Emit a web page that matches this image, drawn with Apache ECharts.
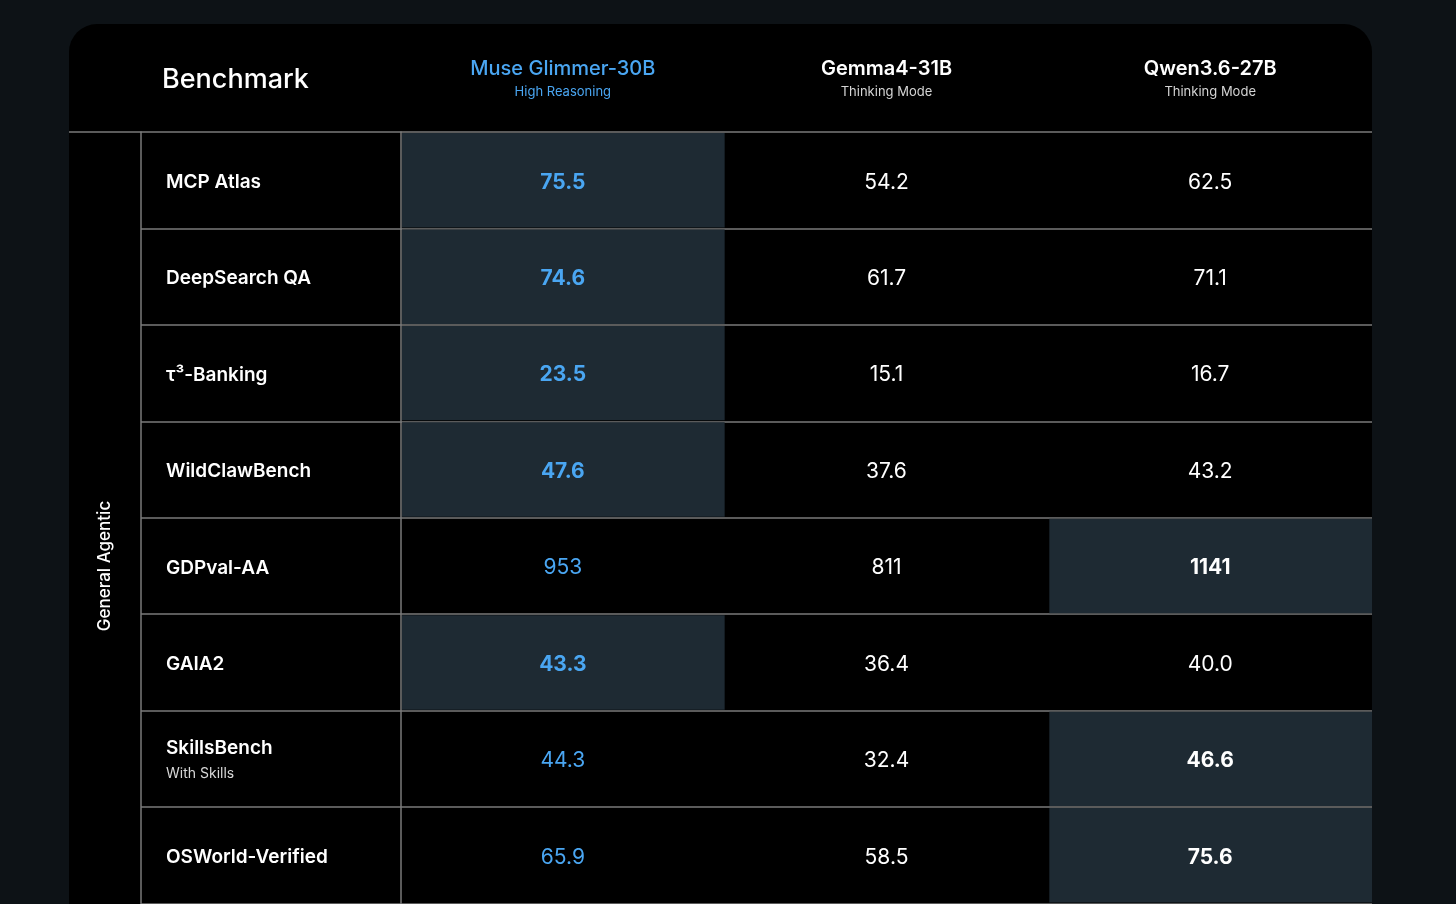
<!DOCTYPE html>
<html>
<head>
<meta charset="utf-8">
<title>Benchmark table</title>
<script src="https://cdn.jsdelivr.net/npm/echarts@6.0.0/dist/echarts.min.js"></script>
<style>
  html, body { margin: 0; padding: 0; background: #0d1216; }
  #chart { width: 1456px; height: 904px; }
</style>
</head>
<body>
<div id="chart"></div>
<script>
const FONT = 'Inter, "Noto Sans", sans-serif';
const LINE = '#7a7a7a';
const BLUE = '#4aa6f2';
const HILITE = '#1e2a33';

const groupName = ['General Agentic'];
const models = ['Muse Glimmer-30B', 'Gemma4-31B', 'Qwen3.6-27B'];
const modelNotes = ['High Reasoning', 'Thinking Mode', 'Thinking Mode'];
const benchmarks = ['MCP Atlas', 'DeepSearch QA', 'τ³-Banking', 'WildClawBench',
  'GDPval-AA', 'GAIA2', 'SkillsBench', 'OSWorld-Verified'];
const benchmarkNotes = ['', '', '', '', '', '', 'With Skills', ''];

const museScores = [75.5, 74.6, 23.5, 47.6, 953, 43.3, 44.3, 65.9];
const gemmaScores = [54.2, 61.7, 15.1, 37.6, 811, 36.4, 32.4, 58.5];
const qwenScores = [62.5, 71.1, 16.7, 43.2, 1141, 40.0, 46.6, 75.6];

const scoreCols = [museScores, gemmaScores, qwenScores];

// one item per cell: [column, row, score, isBestInRow]
const cells = [];
benchmarks.forEach(function (name, row) {
  const rowVals = scoreCols.map(function (col) { return col[row]; });
  const best = Math.max.apply(null, rowVals);
  rowVals.forEach(function (v, col) {
    cells.push([col, row, v, v === best ? 1 : 0]);
  });
});

function fmt(v) {
  return v >= 100 ? v.toFixed(0) : v.toFixed(1);
}

const chart = echarts.init(document.getElementById('chart'));

const option = {
  backgroundColor: '#0d1216',
  animation: false,
  graphic: [{
    type: 'rect',
    z: -10,
    shape: { x: 69, y: 24, width: 1303, height: 900, r: [28, 28, 0, 0] },
    style: { fill: '#000000' }
  }],
  title: {
    text: 'Benchmark',
    left: 162,
    top: 66,
    padding: 0,
    textStyle: { color: '#ffffff', fontFamily: FONT, fontSize: 27, fontWeight: 500 }
  },
  grid: [
    // group band (runs past the bottom edge, the table continues)
    { left: 69, width: 72, top: 132, height: 868, outerBoundsMode: 'none' },
    // benchmark names
    { left: 141, width: 260, top: 132, height: 771.5, outerBoundsMode: 'none' },
    // scores
    { left: 401, width: 971, top: 132, height: 771.5, outerBoundsMode: 'none' }
  ],
  xAxis: [
    { gridIndex: 0, type: 'category', data: [''], show: false },
    { gridIndex: 1, type: 'category', data: [''], show: false },
    {
      gridIndex: 2,
      type: 'category',
      data: models,
      position: 'top',
      axisLine: { show: false },
      axisTick: { show: false },
      axisLabel: {
        interval: 0,
        margin: 30,
        formatter: function (value, idx) {
          const k = idx === 0 ? 'a' : 'b';
          return '{' + k + 'n|' + value + '}\n{' + k + 's|' + modelNotes[idx] + '}';
        },
        rich: {
          an: { color: BLUE, fontFamily: FONT, fontSize: 20, fontWeight: 500, lineHeight: 26 },
          as: { color: BLUE, fontFamily: FONT, fontSize: 13, lineHeight: 20 },
          bn: { color: '#ffffff', fontFamily: FONT, fontSize: 20, fontWeight: 600, lineHeight: 26 },
          bs: { color: '#d4d4d4', fontFamily: FONT, fontSize: 13, lineHeight: 20 }
        }
      }
    }
  ],
  yAxis: [
    {
      gridIndex: 0,
      type: 'category',
      data: groupName,
      axisLine: { show: false },
      axisTick: { show: false },
      axisLabel: { show: false },
      splitLine: { show: true, interval: 0, lineStyle: { color: LINE, width: 1.5 } }
    },
    {
      gridIndex: 1,
      type: 'category',
      data: benchmarks,
      inverse: true,
      axisLine: { show: true, lineStyle: { color: LINE, width: 1.5 } },
      axisTick: { show: false },
      splitLine: { show: true, interval: 0, lineStyle: { color: LINE, width: 1.5 } },
      axisLabel: {
        interval: 0,
        align: 'left',
        margin: -25,
        padding: [4, 0, 0, 0],
        formatter: function (value, idx) {
          const note = benchmarkNotes[idx];
          return note ? '{n|' + value + '}\n{s|' + note + '}' : '{n|' + value + '}';
        },
        rich: {
          n: { color: '#ffffff', fontFamily: FONT, fontSize: 19, fontWeight: 600, lineHeight: 26 },
          s: { color: '#d8d8d8', fontFamily: FONT, fontSize: 14, lineHeight: 26 }
        }
      }
    },
    {
      gridIndex: 2,
      type: 'category',
      data: benchmarks,
      inverse: true,
      axisLine: { show: true, lineStyle: { color: LINE, width: 1.5 } },
      axisTick: { show: false },
      axisLabel: { show: false },
      splitLine: { show: true, interval: 0, lineStyle: { color: LINE, width: 1.5 } }
    }
  ],
  series: [
    {
      type: 'custom',
      name: 'group',
      xAxisIndex: 0,
      yAxisIndex: 0,
      clip: false,
      data: [[0, 0]],
      renderItem: function (params, api) {
        const c = api.coord([api.value(0), api.value(1)]);
        return {
          type: 'text',
          rotation: Math.PI / 2,
          x: c[0],
          y: c[1],
          style: {
            text: groupName[0],
            align: 'center',
            verticalAlign: 'middle',
            fill: '#ffffff',
            fontFamily: FONT,
            fontSize: 17,
            fontWeight: 500
          }
        };
      }
    },
    {
      type: 'custom',
      name: 'scores',
      xAxisIndex: 2,
      yAxisIndex: 2,
      data: cells,
      encode: { x: 0, y: 1 },
      renderItem: function (params, api) {
        const col = api.value(0);
        const row = api.value(1);
        const best = api.value(3) === 1;
        const c = api.coord([col, row]);
        const s = api.size([1, 1]);
        const kids = [];
        if (best) {
          kids.push({
            type: 'rect',
            shape: { x: c[0] - s[0] / 2 + 1, y: c[1] - s[1] / 2 + 1, width: s[0] - 1, height: s[1] - 2 },
            style: { fill: HILITE }
          });
        }
        kids.push({
          type: 'text',
          style: {
            x: c[0],
            y: c[1] + 2,
            text: fmt(api.value(2)),
            align: 'center',
            verticalAlign: 'middle',
            fill: col === 0 ? BLUE : '#ffffff',
            fontFamily: FONT,
            fontSize: 21,
            fontWeight: best ? 700 : 400
          }
        });
        return { type: 'group', children: kids };
      }
    }
  ]
};

chart.setOption(option);
</script>
</body>
</html>
